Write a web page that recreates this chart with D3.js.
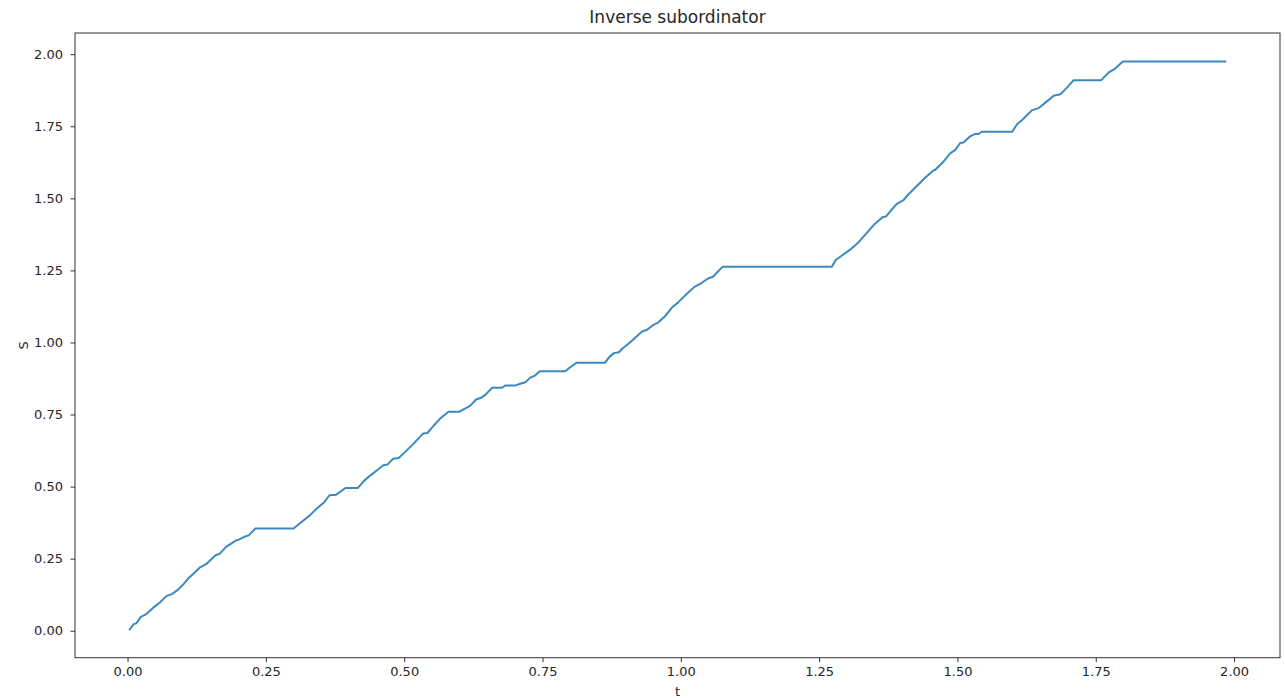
<!DOCTYPE html>
<html>
<head>
<meta charset="utf-8">
<script src="https://cdn.jsdelivr.net/npm/d3@7"></script>
<style>
  html, body { margin: 0; padding: 0; background: #fff; }
  svg { display: block; font-family: "DejaVu Sans", sans-serif; }
</style>
</head>
<body>
<svg id="chart" width="1285" height="698"></svg>
<script>
// Sample path of the inverse subordinator: time t and level S
const tValues = [
  0.004, 0.011, 0.016, 0.024, 0.034, 0.047, 0.059, 0.070, 0.080, 0.089,
  0.098, 0.110, 0.121, 0.131, 0.142, 0.159, 0.166, 0.178, 0.195, 0.202,
  0.211, 0.219, 0.231, 0.300, 0.315, 0.330, 0.342, 0.356, 0.365, 0.377,
  0.394, 0.416, 0.427, 0.439, 0.451, 0.462, 0.470, 0.480, 0.490, 0.500,
  0.517, 0.534, 0.542, 0.554, 0.565, 0.580, 0.600, 0.609, 0.619, 0.630,
  0.639, 0.647, 0.659, 0.677, 0.683, 0.701, 0.710, 0.719, 0.728, 0.737,
  0.745, 0.791, 0.800, 0.812, 0.863, 0.871, 0.879, 0.888, 0.894, 0.907,
  0.920, 0.930, 0.939, 0.949, 0.959, 0.972, 0.984, 0.995, 1.011, 1.024,
  1.038, 1.049, 1.058, 1.068, 1.076, 1.273, 1.280, 1.290, 1.306, 1.321,
  1.337, 1.349, 1.365, 1.371, 1.379, 1.390, 1.403, 1.412, 1.425, 1.433,
  1.442, 1.456, 1.460, 1.475, 1.487, 1.496, 1.505, 1.511, 1.523, 1.531,
  1.538, 1.544, 1.599, 1.608, 1.617, 1.626, 1.635, 1.647, 1.659, 1.674,
  1.686, 1.698, 1.710, 1.760, 1.773, 1.785, 1.799, 1.984
];
const sValues = [
  0.005, 0.023, 0.026, 0.048, 0.058, 0.081, 0.099, 0.120, 0.127, 0.139,
  0.155, 0.182, 0.201, 0.220, 0.231, 0.262, 0.266, 0.291, 0.312, 0.317,
  0.326, 0.331, 0.355, 0.355, 0.378, 0.401, 0.424, 0.447, 0.470, 0.472,
  0.495, 0.495, 0.519, 0.539, 0.557, 0.574, 0.577, 0.597, 0.599, 0.617,
  0.649, 0.684, 0.686, 0.713, 0.736, 0.760, 0.760, 0.770, 0.780, 0.802,
  0.808, 0.819, 0.843, 0.843, 0.851, 0.851, 0.857, 0.862, 0.878, 0.886,
  0.900, 0.900, 0.914, 0.930, 0.930, 0.950, 0.963, 0.966, 0.978, 0.998,
  1.021, 1.038, 1.044, 1.059, 1.069, 1.092, 1.121, 1.139, 1.169, 1.192,
  1.207, 1.222, 1.228, 1.248, 1.263, 1.263, 1.286, 1.300, 1.322, 1.347,
  1.382, 1.408, 1.435, 1.437, 1.456, 1.480, 1.495, 1.515, 1.540, 1.555,
  1.572, 1.596, 1.599, 1.628, 1.656, 1.668, 1.692, 1.694, 1.715, 1.723,
  1.723, 1.731, 1.731, 1.758, 1.772, 1.789, 1.806, 1.813, 1.832, 1.856,
  1.861, 1.884, 1.910, 1.910, 1.936, 1.950, 1.975, 1.975
];
const xTicks = [0.00, 0.25, 0.50, 0.75, 1.00, 1.25, 1.50, 1.75, 2.00];
const yTicks = [0.00, 0.25, 0.50, 0.75, 1.00, 1.25, 1.50, 1.75, 2.00];

const titleText = "Inverse subordinator";
const xLabel = "t";
const yLabel = "S";

const W = 1285, H = 698;
const margin = { top: 33, right: 5, bottom: 40.3, left: 75 };
const iw = W - margin.left - margin.right;
const ih = H - margin.top - margin.bottom;

const points = tValues.map((t, i) => ({ t, s: sValues[i] }));

// 5% padding around the data extent on both axes
function padded(ext) {
  const r = ext[1] - ext[0];
  return [ext[0] - 0.05 * r, ext[1] + 0.05 * r];
}

const x = d3.scaleLinear().domain(padded(d3.extent(tValues))).range([0, iw]);
const y = d3.scaleLinear().domain(padded(d3.extent(sValues))).range([ih, 0]);

const svg = d3.select("#chart");
const g = svg.append("g").attr("transform", `translate(${margin.left},${margin.top})`);

const fmt = d3.format(".2f");
const tickColor = "#333";
const textColor = "#262626";
const fontSize = 13;

const xAxis = g.append("g")
  .attr("transform", `translate(0,${ih})`)
  .call(d3.axisBottom(x).tickValues(xTicks).tickFormat(fmt).tickSize(4.5).tickPadding(4.5).tickSizeOuter(0));
const yAxis = g.append("g")
  .call(d3.axisLeft(y).tickValues(yTicks).tickFormat(fmt).tickSize(4.5).tickPadding(7.5).tickSizeOuter(0));

[xAxis, yAxis].forEach(a => {
  a.select(".domain").remove();
  a.selectAll(".tick line").attr("stroke", tickColor).attr("stroke-width", 1);
  a.selectAll(".tick text")
    .attr("fill", textColor)
    .style("font-family", "'DejaVu Sans', sans-serif")
    .style("font-size", fontSize + "px");
});

// data line
const line = d3.line().x(d => x(d.t)).y(d => y(d.s));
g.append("path")
  .datum(points)
  .attr("fill", "none")
  .attr("stroke", "#2c7fb8")
  .attr("stroke-opacity", 0.92)
  .attr("stroke-width", 2)
  .attr("stroke-linejoin", "round")
  .attr("stroke-linecap", "square")
  .attr("d", line);

// frame
g.append("rect")
  .attr("x", 0).attr("y", 0)
  .attr("width", iw).attr("height", ih)
  .attr("fill", "none")
  .attr("stroke", tickColor)
  .attr("stroke-width", 1);

// title and axis labels
svg.append("text")
  .attr("x", margin.left + iw / 2)
  .attr("y", 23)
  .attr("text-anchor", "middle")
  .attr("fill", textColor)
  .style("font-size", "17px")
  .text(titleText);

svg.append("text")
  .attr("x", margin.left + iw / 2)
  .attr("y", 696)
  .attr("text-anchor", "middle")
  .attr("fill", textColor)
  .style("font-size", fontSize + "px")
  .text(xLabel);

svg.append("text")
  .attr("transform", `translate(28,${margin.top + ih / 2}) rotate(-90)`)
  .attr("text-anchor", "middle")
  .attr("fill", textColor)
  .style("font-size", fontSize + "px")
  .text(yLabel);
</script>
</body>
</html>
